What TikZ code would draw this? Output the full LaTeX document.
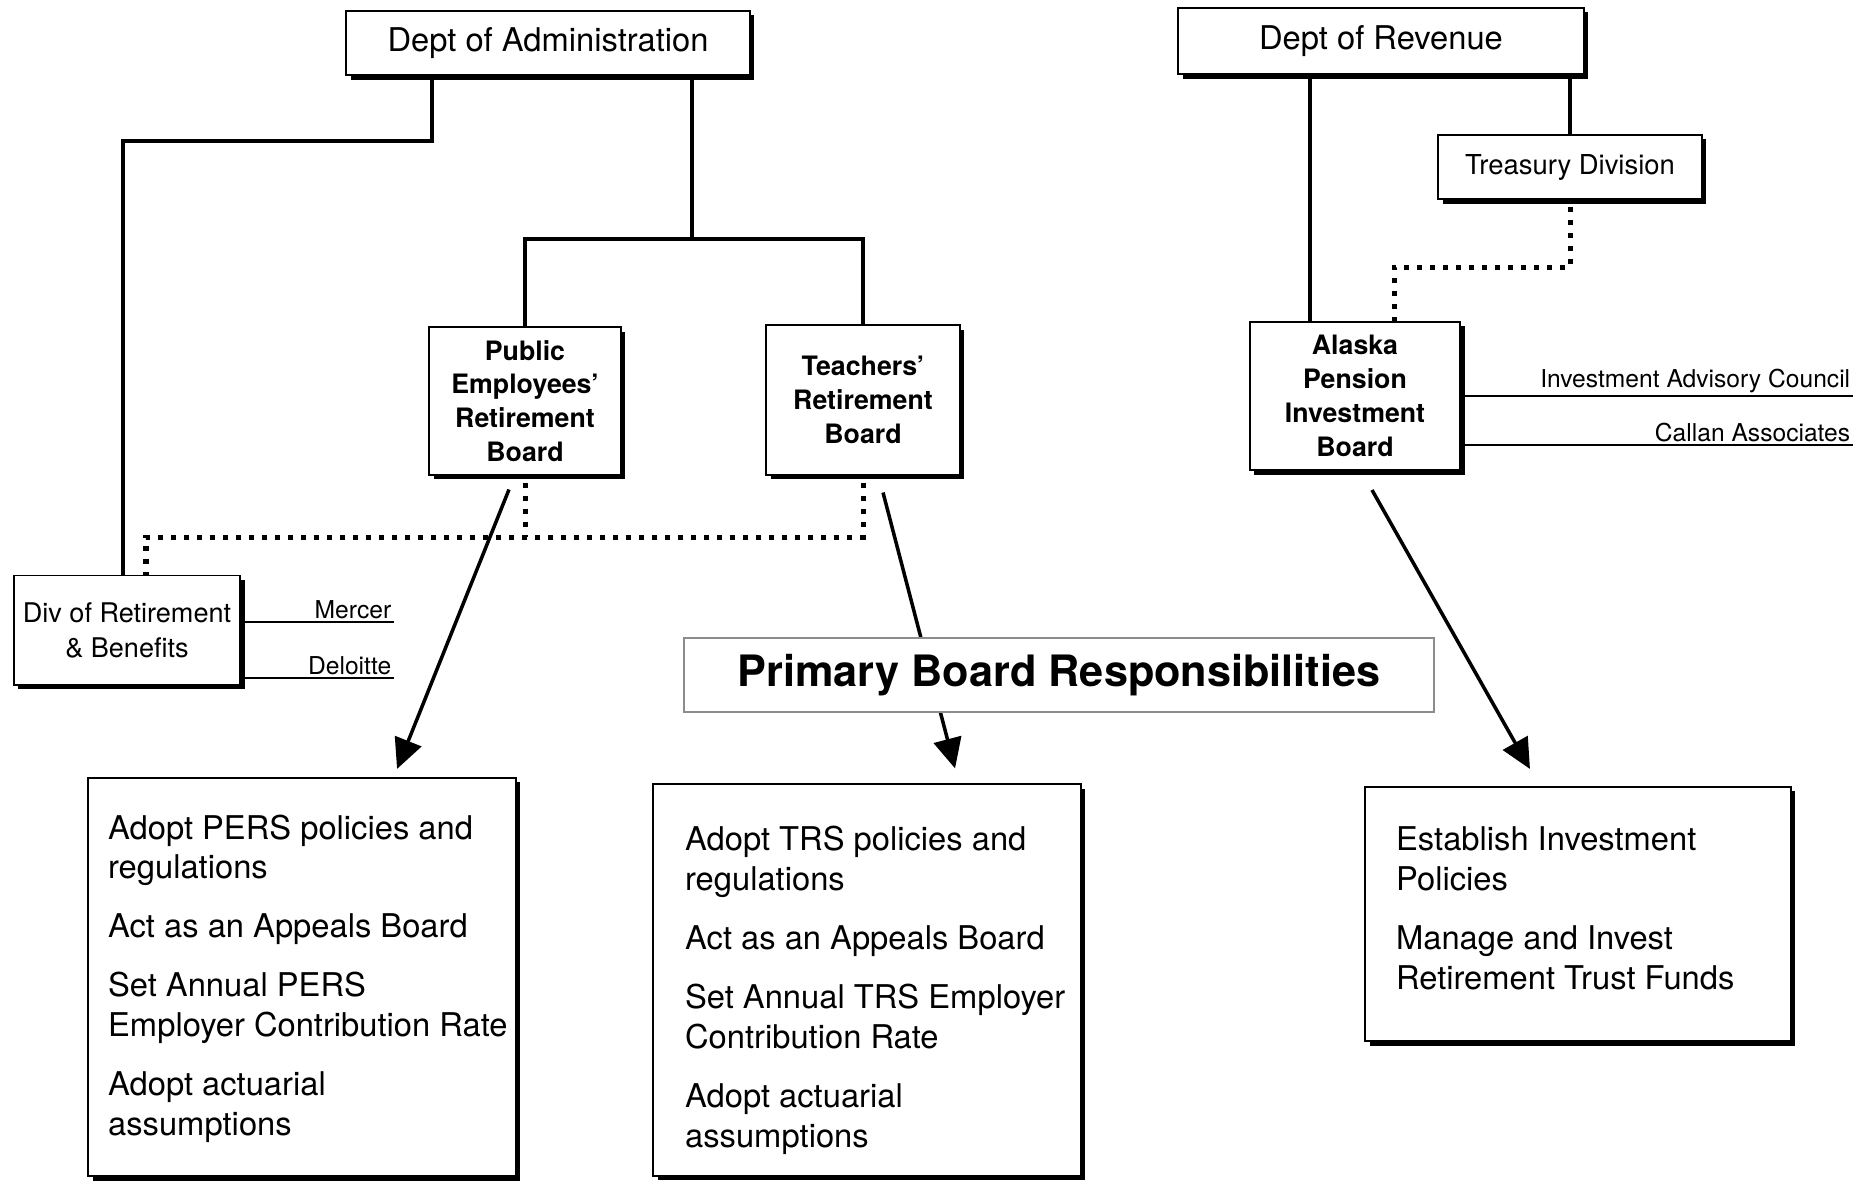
\documentclass[tikz,border=0pt]{standalone}
\usepackage{fontspec}
\setmainfont{TeX Gyre Heros}
\usetikzlibrary{arrows.meta,shadows,positioning}

\begin{document}
\begin{tikzpicture}[x=0.01cm,y=-0.01cm,
	orgbox/.style={draw,line width=0.55pt,fill=white,inner sep=0pt,
		drop shadow={shadow xshift=0.045cm,shadow yshift=-0.045cm,fill=black,opacity=1}},
	deptbox/.style={orgbox,font=\fontsize{9.3}{11}\selectfont},
	boardbox/.style={orgbox,align=center,font=\fontsize{7.6}{9.6}\selectfont\bfseries},
	resptext/.style={align=left,inner sep=0pt,font=\fontsize{9.3}{11.3}\selectfont},
	advisor/.style={inner sep=0.6pt,font=\fontsize{7}{8}\selectfont},
	orgline/.style={line width=1.3pt},
	dotline/.style={line width=0.05cm,dash pattern=on 0.05cm off 0.08cm},
	sideline/.style={line width=0.5pt},
	boardarrow/.style={line width=1pt,-{Triangle[length=0.3cm,width=0.28cm]}},
]
\useasboundingbox (0,0) rectangle (1871,1184);

% departments and boards
\node[deptbox,minimum width=4.03cm,minimum height=0.64cm] (admin) at (548,43) {Dept of Administration};
\node[deptbox,minimum width=4.05cm,minimum height=0.66cm] (revenue) at (1381,41) {Dept of Revenue};
\node[orgbox,font=\fontsize{7.8}{9}\selectfont,minimum width=2.63cm,minimum height=0.64cm] (treasury) at (1570,167) {Treasury Division};
\node[boardbox,minimum width=1.91cm,minimum height=1.47cm] (perb) at (525,401) {Public\\Employees'\\Retirement\\Board};
\node[boardbox,minimum width=1.93cm,minimum height=1.49cm] (trb) at (863,400) {Teachers'\\Retirement\\Board};
\node[boardbox,minimum width=2.10cm,minimum height=1.48cm] (apib) at (1355,396) {Alaska\\Pension\\Investment\\Board};
\node[orgbox,align=center,font=\fontsize{7.7}{9.9}\selectfont,minimum width=2.26cm,minimum height=1.09cm] (divrb) at (127,630) {Div of Retirement\\\& Benefits};

% responsibilities
\node[orgbox,minimum width=4.27cm,minimum height=3.98cm] (persbox) at (302,977) {};
\node[resptext,below right=0.37cm and 0.2cm of persbox.north west] (perstext) {Adopt PERS policies and\\regulations\\[5.5pt]Act as an Appeals Board\\[5.5pt]Set Annual PERS\\Employer Contribution Rate\\[5.5pt]Adopt actuarial\\assumptions};
\node[orgbox,minimum width=4.27cm,minimum height=3.91cm] (trsbox) at (867,980) {};
\node[resptext,below right=0.42cm and 0.32cm of trsbox.north west] (trstext) {Adopt TRS policies and\\regulations\\[5.5pt]Act as an Appeals Board\\[5.5pt]Set Annual TRS Employer\\Contribution Rate\\[5.5pt]Adopt actuarial\\assumptions};
\node[orgbox,minimum width=4.25cm,minimum height=2.54cm] (apibresp) at (1578,914) {};
\node[resptext,below right=0.40cm and 0.31cm of apibresp.north west] (apibtext) {Establish Investment\\Policies\\[5.5pt]Manage and Invest\\Retirement Trust Funds};

% solid lines
\coordinate (adminL) at (432,141);
\coordinate (adminR) at (692,239);
\coordinate (revdrop) at (1310,0);
\draw[orgline] (admin.south -| adminL) -- (adminL) -| ([xshift=-0.04cm]divrb.north);
\draw[orgline] (admin.south -| adminR) -- (adminR);
\draw[orgline] (perb.north) |- (adminR) -| (trb.north);
\draw[orgline] (revenue.south -| revdrop) -- (apib.north -| revdrop);
\draw[orgline] (revenue.south -| treasury.north) -- (treasury.north);

% dotted lines
\coordinate (tjog) at (1394,267);
\coordinate (dotbus) at (146,537);
\draw[dotline] ([yshift=-0.07cm]treasury.south) |- (tjog) -- (tjog |- apib.north);
\draw[dotline] ([yshift=-0.07cm]trb.south) |- (dotbus) -- (dotbus |- divrb.north);
\draw[dotline] ([yshift=-0.07cm]perb.south) -- (perb.south |- dotbus);

% advisors
\coordinate (mercerend) at (394,622);
\coordinate (deloitteend) at (394,678);
\coordinate (iacend) at (1853,396);
\coordinate (callanend) at (1853,445);
\node[advisor,anchor=south east] (mercer) at (mercerend) {Mercer};
\node[advisor,anchor=south east] (deloitte) at (deloitteend) {Deloitte};
\node[advisor,anchor=south east] (iac) at (iacend) {Investment Advisory Council};
\node[advisor,anchor=south east] (callan) at (callanend) {Callan Associates};
\draw[sideline] (divrb.east |- mercerend) -- (mercerend);
\draw[sideline] (divrb.east |- deloitteend) -- (deloitteend);
\draw[sideline] (apib.east |- iacend) -- (iacend);
\draw[sideline] (apib.east |- callanend) -- (callanend);

% arrows
\draw[boardarrow] ([xshift=-0.16cm,yshift=-0.14cm]perb.south) -- ([xshift=0.95cm,yshift=0.08cm]persbox.north);
\draw[boardarrow] ([xshift=0.2cm,yshift=-0.17cm]trb.south) -- ([xshift=0.88cm,yshift=0.15cm]trsbox.north);
\draw[boardarrow] ([xshift=0.17cm,yshift=-0.19cm]apib.south) -- ([xshift=-0.48cm,yshift=0.17cm]apibresp.north);

\node[draw=black!45,line width=0.5pt,fill=white,minimum width=7.5cm,minimum height=0.74cm,font=\fontsize{12.3}{14}\selectfont\bfseries] (primary) at (1059,675) {Primary Board Responsibilities};

\end{tikzpicture}
\end{document}
